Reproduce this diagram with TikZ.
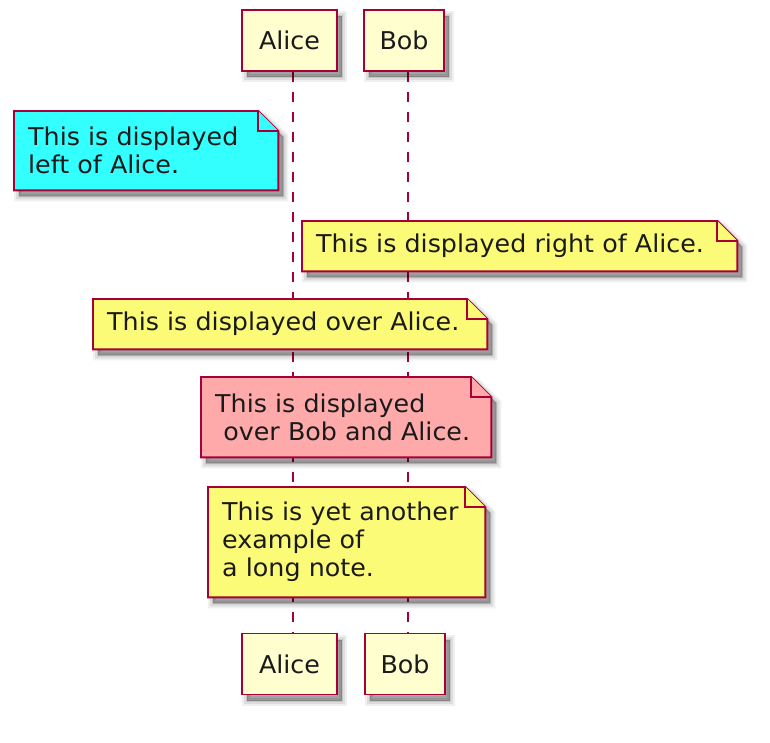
\documentclass[tikz,border=0pt]{standalone}
\usepackage{fontspec}
\setmainfont{DejaVu Sans}[FakeStretch=1.035]
\definecolor{umlborder}{HTML}{A80036}
\definecolor{partfill}{HTML}{FEFECE}
\definecolor{notefill}{HTML}{FBFB77}
\definecolor{cyannote}{HTML}{33FFFF}
\definecolor{pinknote}{HTML}{FFAAAA}
\definecolor{umltext}{HTML}{1A1A1A}
\pgfdeclarelayer{lines}
\pgfdeclarelayer{notes}
\pgfsetlayers{lines,notes,main}
\tikzset{
  umlshadow/.style={
    preaction={draw=black, draw opacity=0.06, line width=10pt, transform canvas={shift={(5pt,-6pt)}}},
    preaction={draw=black, draw opacity=0.08, line width=6pt, transform canvas={shift={(5pt,-6pt)}}},
    preaction={draw=black, draw opacity=0.10, line width=2pt, fill=black, fill opacity=0.32, transform canvas={shift={(5pt,-6pt)}}}},
  participant/.style={draw=umlborder, line width=1.9pt, fill=partfill, minimum height=61pt,
    inner sep=0pt, font=\fontsize{24.5}{28}\selectfont, text=umltext, umlshadow},
  lifeline/.style={draw=umlborder, line width=1.8pt, dash pattern=on 10pt off 10pt},
  notebody/.style={inner xsep=14pt, inner ysep=0pt, anchor=north west, align=left,
    font=\fontsize{24.5}{28}\selectfont, text=umltext},
  noteshape/.style={draw=umlborder, line width=1.9pt, line join=miter, fill=#1, umlshadow},
  notefold/.style={draw=umlborder, line width=1.9pt, line join=miter, fill=#1},
}
\newcommand\drawnote[2]{%
  \begin{pgfonlayer}{notes}
    \path[noteshape=#2] (#1.north west) -- ([xshift=-20pt]#1.north east)
      -- ([yshift=-20pt]#1.north east) -- (#1.south east) -- (#1.south west) -- cycle;
    \path[notefold=#2] ([xshift=-20pt]#1.north east) -- ([xshift=-20pt,yshift=-20pt]#1.north east)
      -- ([yshift=-20pt]#1.north east);
  \end{pgfonlayer}}
\begin{document}
\begin{tikzpicture}[x=1pt, y=-1pt]
  \useasboundingbox (0,0) rectangle (770,742);
  \begin{pgfonlayer}{lines}
    \fill[white] (0,0) rectangle (770,742);
  \end{pgfonlayer}

  % participants
  \node[participant, minimum width=95pt] (aT) at (289.5,40.5) {Alice};
  \node[participant, minimum width=80pt] (bT) at (404,40.5) {Bob};
  \node[participant, minimum width=95pt] (aB) at (289.5,664) {Alice};
  \node[participant, minimum width=80pt] (bB) at (405,664) {Bob};

  % lifelines
  \begin{pgfonlayer}{lines}
    \draw[lifeline] ([xshift=3.5pt]aT.south) -- ([xshift=3.5pt]aB.north);
    \draw[lifeline] ([xshift=4pt]bT.south) -- ([xshift=3pt]bB.north);
  \end{pgfonlayer}

  % notes
  \node[notebody, minimum width=264pt, minimum height=79pt, text width=236pt] (nleft) at (14,111)
    {This is displayed\\left of Alice.};
  \drawnote{nleft}{cyannote}

  \node[notebody, minimum width=435pt, minimum height=50pt, text width=407pt] (nright) at (302,221)
    {This is displayed right of Alice.};
  \drawnote{nright}{notefill}

  \node[notebody, minimum width=394pt, minimum height=50pt, text width=366pt] (nover) at (93,299)
    {This is displayed over Alice.};
  \drawnote{nover}{notefill}

  \node[notebody, minimum width=290pt, minimum height=80pt, text width=262pt] (nboth) at (201,377)
    {This is displayed\\\hspace*{0.33em}over Bob and Alice.};
  \drawnote{nboth}{pinknote}

  \node[notebody, minimum width=277pt, minimum height=110pt, text width=249pt] (nlong) at (208,487)
    {This is yet another\\example of\\a long note.};
  \drawnote{nlong}{notefill}
\end{tikzpicture}
\end{document}
